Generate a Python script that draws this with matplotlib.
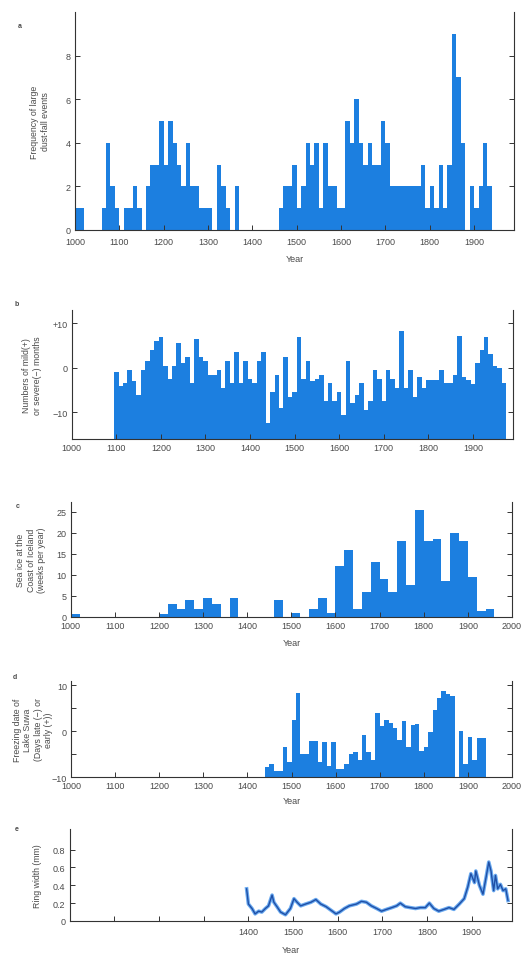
"""
plot.py

five stacked climate proxy panels (dust falls, mild/severe months,
iceland sea ice, lake suwa freezing, ring widths)
"""
import numpy as np
import matplotlib
matplotlib.use("Agg")
import matplotlib.pyplot as plt

plt.rcParams['font.family'] = ['Liberation Sans', 'DejaVu Sans']

BLUE = '#1c7fe0'
TEXT = '#4a4a4a'
W, H = 524, 954

# a: large dust-fall events per decade, 1000-1930
dust_start = 1000
dust_counts = [1, 1, 0, 0, 0, 0, 1, 4, 2, 1,
               0, 1, 1, 2, 1, 0, 2, 3, 3, 5,
               3, 5, 4, 3, 2, 4, 2, 2, 1, 1,
               1, 0, 3, 2, 1, 0, 2, 0, 0, 0,
               0, 0, 0, 0, 0, 0, 1, 2, 2, 3,
               1, 2, 4, 3, 4, 1, 4, 2, 2, 1,
               1, 5, 4, 6, 4, 3, 4, 3, 3, 5,
               4, 2, 2, 2, 2, 2, 2, 2, 3, 1,
               2, 1, 3, 1, 3, 9, 7, 4, 0, 2,
               1, 2, 4, 2]

# b: mild (+) / severe (-) months, decades centred 1100-1970
mild_start = 1100
mild_months = [-1, -4, -3.5, -0.5, -3, -6, -0.5, 1.5, 4, 6,
               7, 0.5, -2.5, 0.5, 5.5, 1, 2.5, -3.5, 6.5, 2.5,
               1.5, -1.5, -1.5, -0.5, -4.5, 1.5, -3.5, 3.5, -3.5, 1.5,
               -2.5, -3.5, 1.5, 3.5, -12.5, -5.5, -1.5, -9, 2.5, -6.5,
               -5.5, 7, -2.5, 1.5, -3, -2.5, -1.5, -7.5, -3.5, -7.5,
               -5.5, -10.5, 1.5, -8, -6, -3.5, -9.5, -7.5, -0.5, -2.5,
               -7.5, -0.5, -2.5, -4.5, 8.3, -4.5, -0.5, -6.5, -2, -4.5,
               -2.8, -2.8, -2.8, -0.5, -3.5, -3.5, -1.5, 7.2, -2, -2.8,
               -3.7, 1, 4, 7, 3.2, 0.5, 0, -3.5]

# c: sea ice off iceland, weeks per year in 20-year bins 1000-1940
ice_start = 1000
ice_weeks = [0.7, 0, 0, 0, 0, 0, 0, 0, 0, 0,
             0.7, 3, 2, 4, 2, 4.5, 3, 0, 4.5, 0,
             0, 0, 0, 4, 0, 1, 0, 2, 4.5, 1,
             12, 16, 2, 6, 13, 9, 6, 18, 7.5, 25.5,
             18, 18.5, 8.5, 20, 18, 9.5, 1.5, 2]

# d: lake suwa freezing date anomaly (days), decades 1440-1930
suwa_start = 1440
suwa_days = [-7.9, -7.1, -8.6, -8.6, -3.5, -6.8, 2.4, 8.3, -4.9, -4.9,
             -2.2, -2.2, -6.8, -2.4, -7.5, -2.4, -8.2, -8.2, -7.1, -4.9,
             -4.6, -6.4, -0.9, -4.6, -6.4, 3.9, 1, 2.4, 1.7, 0.6,
             -2, 2.2, -3.5, 1.3, 1.5, -4.4, -3.5, -0.3, 4.6, 7.2,
             8.8, 8.1, 7.6, np.nan, 0, -7.1, -1.25, -6.4, -1.5, -1.5]

# e: tree ring width (mm)
ring_years = [1396, 1400, 1408, 1415, 1423, 1430, 1438, 1445, 1453, 1457,
              1464, 1472, 1483, 1494, 1502, 1509, 1517, 1528, 1540, 1551,
              1562, 1574, 1585, 1596, 1604, 1615, 1626, 1642, 1653, 1664,
              1675, 1687, 1698, 1709, 1721, 1732, 1740, 1751, 1762, 1774,
              1785, 1796, 1805, 1815, 1826, 1838, 1849, 1860, 1872, 1883,
              1891, 1898, 1906, 1909, 1917, 1925, 1932, 1938, 1943, 1949,
              1953, 1958, 1964, 1970, 1976, 1981]
ring_width = [0.36, 0.19, 0.14, 0.08, 0.11, 0.10, 0.14, 0.17, 0.29, 0.21,
              0.16, 0.10, 0.07, 0.14, 0.25, 0.21, 0.17, 0.19, 0.21, 0.24,
              0.19, 0.16, 0.12, 0.08, 0.10, 0.14, 0.17, 0.19, 0.22, 0.21,
              0.17, 0.14, 0.11, 0.13, 0.15, 0.17, 0.20, 0.16, 0.15, 0.14,
              0.15, 0.15, 0.20, 0.14, 0.11, 0.13, 0.15, 0.13, 0.19, 0.25,
              0.38, 0.53, 0.43, 0.56, 0.40, 0.30, 0.49, 0.66, 0.56, 0.34,
              0.51, 0.36, 0.41, 0.34, 0.36, 0.23]


def px_axes(fig, left, right, top, bottom):
    """add an axes given its box in pixels from the top-left corner"""
    return fig.add_axes([left / W, 1 - bottom / H,
                         (right - left) / W, (bottom - top) / H])


def style_axes(ax, xlim, ylim, yticks, yticklabels, xticks, xticklabels,
               xlabel=None, xpad=3, labelpad=4):
    """box without a top, inward ticks, mirrored y ticks on the right"""
    ax.set_xlim(*xlim)
    ax.set_ylim(*ylim)
    ax.spines['top'].set_visible(False)
    for s in ('left', 'right', 'bottom'):
        ax.spines[s].set_color('#333333')
        ax.spines[s].set_linewidth(0.8)
    ax.set_yticks(yticks)
    ax.set_yticklabels(yticklabels)
    ax.set_xticks(xticks)
    ax.set_xticklabels(xticklabels)
    ax.tick_params(direction='in', length=3.5, width=0.7, colors='#333333',
                   labelcolor=TEXT, labelsize=6.5, pad=3,
                   right=True, top=False)
    ax.tick_params(axis='x', pad=xpad)
    if xlabel:
        ax.set_xlabel(xlabel, fontsize=6.5, color=TEXT, labelpad=labelpad)


def side_label(fig, ax, x_px, text, letter, letter_xy):
    """rotated y label placed at a pixel column, plus the panel letter"""
    pos = ax.get_position()
    fig.text(x_px / W, pos.y0 + pos.height / 2, text, rotation=90,
             ha='center', va='center', fontsize=6.3, color=TEXT,
             linespacing=1.15, multialignment='center')
    fig.text(letter_xy[0] / W, 1 - letter_xy[1] / H, letter, fontsize=5,
             fontweight='bold', color=TEXT, ha='center', va='center')


fig = plt.figure(figsize=(W / 100, H / 100), dpi=100)
fig.patch.set_facecolor('white')

century = list(range(1000, 2001, 100))

# a ---------------------------------------------------------------------------
ax_a = px_axes(fig, 75, 514, 13, 231)
x = dust_start + 10 * np.arange(len(dust_counts))
ax_a.bar(x, dust_counts, width=10, align='edge', color=BLUE, linewidth=0)
style_axes(ax_a, (1000, 1990), (0, 10), [0, 2, 4, 6, 8],
           ['0', '2', '4', '6', '8'],
           century[:-1], [str(c) for c in century[:-1]], 'Year',
           xpad=5, labelpad=6)
side_label(fig, ax_a, 40, 'Frequency of large\ndust-fall events', 'a',
           (20, 27))

# b ---------------------------------------------------------------------------
ax_b = px_axes(fig, 71.7, 513, 311, 440)
b_bottom = -16
x = mild_start + 10 * np.arange(len(mild_months))
ax_b.bar(x, np.array(mild_months) - b_bottom, bottom=b_bottom, width=10,
         align='center', color=BLUE, linewidth=0)
style_axes(ax_b, (1000, 1990), (b_bottom, 13), [-10, 0, 10],
           ['\u221210', '0', '+10'],
           century[:-1], [str(c) for c in century[:-1]])
side_label(fig, ax_b, 32, 'Numbers of mild(+)\nor severe(\u2212) months',
           'b', (17, 305))

# c ---------------------------------------------------------------------------
ax_c = px_axes(fig, 70.7, 512, 503, 618)
x = ice_start + 20 * np.arange(len(ice_weeks))
ax_c.bar(x, ice_weeks, width=20, align='edge', color=BLUE, linewidth=0)
style_axes(ax_c, (1000, 2000), (0, 27.3), [0, 5, 10, 15, 20, 25],
           ['0', '5', '10', '15', '20', '25'],
           century, [str(c) for c in century], 'Year', labelpad=6)
side_label(fig, ax_c, 31, 'Sea ice at the\nCoast of Iceland\n(weeks per year)',
           'c', (18, 507))

# d ---------------------------------------------------------------------------
ax_d = px_axes(fig, 71, 512, 682, 778)
d_bottom = -10
suwa = np.array(suwa_days)
x = suwa_start + 10 * np.arange(len(suwa))
ok = ~np.isnan(suwa)
ax_d.bar(x[ok], suwa[ok] - d_bottom, bottom=d_bottom, width=10, align='edge',
         color=BLUE, linewidth=0)
style_axes(ax_d, (1000, 2000), (d_bottom, 10.9), [-10, -5, 0, 5, 10],
           ['\u221210', '', '0', '', '10'],
           century, [str(c) for c in century], 'Year')
side_label(fig, ax_d, 33,
           'Freezing date of\nLake Suwa\n(Days late (\u2212) or\nearly (+))',
           'd', (15, 678))

# e ---------------------------------------------------------------------------
ax_e = px_axes(fig, 69.7, 512, 830, 922)
ax_e.plot(ring_years, ring_width, color='#6aaaf0', linewidth=2.6,
          solid_joinstyle='round')
ax_e.plot(ring_years, ring_width, color='#1f4fa6', linewidth=1.0,
          solid_joinstyle='round')
e_ticks = list(range(1100, 2000, 100))
e_labels = ['' if t < 1400 else str(t) for t in e_ticks]
style_axes(ax_e, (1000, 1990), (0, 1.03), [0, 0.2, 0.4, 0.6, 0.8],
           ['0', '0.2', '0.4', '0.6', '0.8'], e_ticks, e_labels, 'Year',
           xpad=4.5, labelpad=6)
side_label(fig, ax_e, 37, 'Ring width (mm)', 'e', (17, 830))

fig.savefig('out.png', dpi=100, facecolor='white')
